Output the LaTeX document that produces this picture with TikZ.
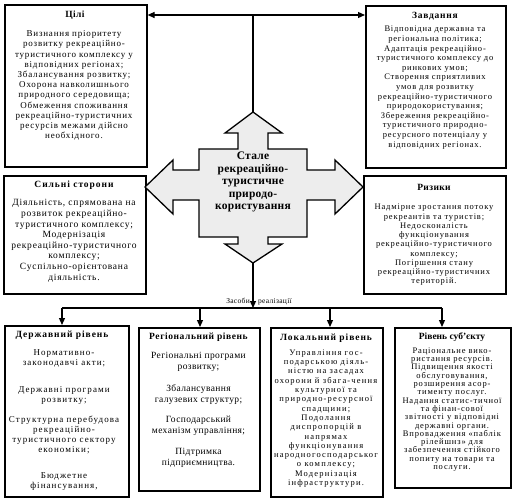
\documentclass[tikz,border=0pt]{standalone}
\usepackage{fontspec}
\setmainfont{Liberation Serif}
\usetikzlibrary{arrows.meta}
\newcommand{\fs}[3]{\fontsize{#1}{#2}\selectfont\addfontfeature{LetterSpace=#3}}
\begin{document}
\begin{tikzpicture}[x=1pt,y=-1pt,
  box/.style={draw, line width=1.6pt, anchor=north west, inner sep=0pt},
  wire/.style={line width=1.2pt},
  conn/.style={line width=1.2pt, -{Triangle[length=7pt,width=6pt]}},
  ttl/.style={anchor=north, inner sep=0pt, align=center},
  txt/.style={anchor=north, inner sep=0pt, align=center}]
\useasboundingbox (0,0) rectangle (513,500);

% boxes
\node[box, minimum width=142pt, minimum height=162pt] (goals) at (4,4) {};
\node[box, minimum width=140pt, minimum height=162pt] (tasks) at (365,5) {};
\node[box, minimum width=142pt, minimum height=118pt] (str) at (3,175) {};
\node[box, minimum width=142pt, minimum height=118pt] (risk) at (363,175) {};
\node[box, minimum width=124pt, minimum height=171pt] (state) at (4,325) {};
\node[box, minimum width=121pt, minimum height=163pt] (reg) at (138,327) {};
\node[box, minimum width=112pt, minimum height=169pt] (loc) at (270,327) {};
\node[box, minimum width=116pt, minimum height=160pt] (subj) at (394,327) {};

% central cross
\fill[gray!14] (253,112) -- (282,133) -- (268,133) -- (268,149) -- (307,149) -- (307,170)
  -- (335,170) -- (335,160) -- (363,187) -- (335,214) -- (335,200) -- (307,200)
  -- (307,237) -- (268,237) -- (268,244) -- (282,244) -- (253,263) -- (225,244)
  -- (238,244) -- (238,237) -- (199,237) -- (199,200) -- (173,200) -- (173,214)
  -- (145,187) -- (173,160) -- (173,170) -- (199,170) -- (199,149) -- (238,149)
  -- (238,133) -- (225,133) -- cycle;
\draw[line width=1.3pt, line join=miter] (253,112) -- (282,133) -- (268,133) -- (268,149) -- (307,149) -- (307,170)
  -- (335,170) -- (335,160) -- (363,187) -- (335,214) -- (335,200) -- (307,200)
  -- (307,237) -- (268,237) -- (268,244) -- (282,244) -- (253,263) -- (225,244)
  -- (238,244) -- (238,237) -- (199,237) -- (199,200) -- (173,200) -- (173,214)
  -- (145,187) -- (173,160) -- (173,170) -- (199,170) -- (199,149) -- (238,149)
  -- (238,133) -- (225,133) -- cycle;
\coordinate (ctop) at (253,112);
\coordinate (cbot) at (253,263);
\node[inner sep=0pt, align=center, font=\bfseries\fs{11.5}{12.5}{2}] (core) at (253,182)
  {Стале\\рекреаційно-\\туристичне\\природо-\\користування};

% texts: goals
\node[ttl, font=\bfseries\fs{9.5}{10}{4}] (goalsT) at (75,10.5) {Цілі};
\node[txt, font=\fs{9}{10.2}{9}] (goalsB) at (74,30.5)
  {Визнання пріоритету\\розвитку рекреаційно-\\туристичного комплексу у\\відповідних регіонах;\\Збалансування розвитку;\\Охорона навколишнього\\природного середовища;\\Обмеження споживання\\рекреаційно-туристичних\\ресурсів межами дійсно\\необхідного.};

% tasks
\node[ttl, font=\bfseries\fs{9.5}{10}{8}] (tasksT) at (435,12.5) {Завдання};
\node[txt, font=\fs{8.5}{9.6}{9}] (tasksB) at (435,26)
  {Відповідна державна та\\регіональна політика;\\Адаптація рекреаційно-\\туристичного комплексу до\\ринкових умов;\\Створення сприятливих\\умов для розвитку\\рекреаційно-туристичного\\природокористування;\\Збереження рекреаційно-\\туристичного природно-\\ресурсного потенціалу у\\відповідних регіонах.};

% strengths
\node[ttl, font=\bfseries\fs{9.5}{10}{10}] (strT) at (74,180.5) {Сильні сторони};
\node[txt, font=\fs{9.5}{10.6}{8}] (strB) at (74,199.5)
  {Діяльність, спрямована на\\розвиток рекреаційно-\\туристичного комплексу;\\Модернізація\\рекреаційно-туристичного\\комплексу;\\Суспільно-орієнтована\\діяльність.};

% risks
\node[ttl, font=\bfseries\fs{9.5}{10}{4}] (riskT) at (434,184.5) {Ризики};
\node[txt, font=\fs{8.5}{9.25}{10}] (riskB) at (434,204)
  {Надмірне зростання потоку\\рекреантів та туристів;\\Недосконалість\\функціонування\\рекреаційно-туристичного\\комплексу;\\Погіршення стану\\рекреаційно-туристичних\\територій.};

% state
\node[ttl, font=\bfseries\fs{9.5}{10}{10}] (stateT) at (62,330.5) {Державний рівень};
\node[txt, font=\fs{9}{10}{12}] (stateB) at (64,349)
  {Нормативно-\\законодавчі акти;\\[17pt]Державні програми\\розвитку;\\[10pt]Структурна перебудова\\рекреаційно-\\туристичного сектору\\економіки;\\[16pt]Бюджетне\\фінансування,};

% regional
\node[ttl, font=\bfseries\fs{9.5}{10}{6}] (regT) at (198.5,332.5) {Регіональний рівень};
\node[txt, font=\fs{9.5}{10.5}{4}] (regB) at (198.5,352.5)
  {Регіональні програми\\розвитку;\\[12pt]Збалансування\\галузевих структур;\\[10pt]Господарський\\механізм управління;\\[11pt]Підтримка\\підприємництва.};

% local
\node[ttl, font=\bfseries\fs{9.5}{10}{10}] (locT) at (326,333.5) {Локальний рівень};
\node[txt, font=\fs{8.5}{9.3}{14}] (locB) at (326,349.5)
  {Управління гос-\\подарською діяль-\\ністю на засадах\\охорони й збага-чення\\культурної та\\природно-ресурсної\\спадщини;\\Подолання\\диспропорцій в\\напрямах\\функціонування\\народногосподарськог\\о комплексу;\\Модернізація\\інфраструктури.};

% subject
\node[ttl, font=\bfseries\fs{9.5}{10}{0}] (subjT) at (452,332.5) {Рівень суб’єкту};
\node[txt, font=\fs{8.5}{8.3}{10}] (subjB) at (452,347.5)
  {Раціональне вико-\\ристання ресурсів.\\Підвищення якості\\обслуговування,\\розширення асор-\\тименту послуг.\\Надання статис-тичної\\та фінан-сової\\звітності у відповідні\\державні органи.\\Впровадження «паблік\\рілейшнз» для\\забезпечення стійкого\\попиту на товари та\\послуги.};

% top connectors
\coordinate (tj) at (253,15);
\draw[wire] (ctop) -- (tj);
\draw[conn] (tj) -- (goals.east |- tj);
\draw[conn] (tj) -- (tasks.west |- tj);

% bottom connectors
\coordinate (bj) at (253,308);
\coordinate (bl) at (62,308);
\coordinate (br) at (442,308);
\draw[conn] (cbot) -- (bj);
\draw[wire] (bl) -- (br);
\draw[conn] (bl) -- (bl |- state.north);
\draw[conn] (200,308) -- (200,327 |- reg.north);
\draw[conn] (330,308) -- (330,327 |- loc.north);
\draw[conn] (br) -- (br |- subj.north);
\node[anchor=base east, inner sep=0pt, font=\fs{7.5}{8}{4}] (lab1) at (250,303) {Засоби};
\node[anchor=base west, inner sep=0pt, font=\fs{7.5}{8}{4}] (lab2) at (258,303) {реалізації};
\end{tikzpicture}
\end{document}
